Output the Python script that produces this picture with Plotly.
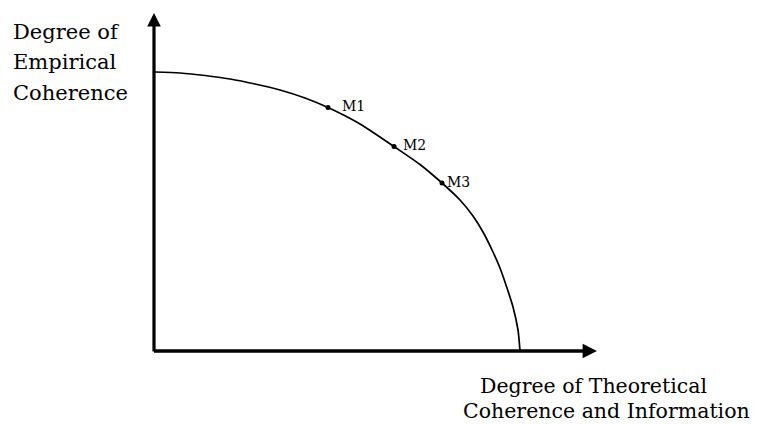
import plotly.graph_objects as go

# Frontier curve (x: theoretical, y: empirical)
curve_x = [1, 26, 51, 76, 101, 126, 151, 174, 190, 206, 223, 240, 266, 288, 306, 319,
           329, 339, 346, 353, 359, 364, 366]
curve_y = [279, 278, 275.5, 272, 267, 261, 253, 243.5, 235.7, 227, 216, 204.5, 186.5, 168,
           151, 135, 119, 99, 83, 63, 44, 21, 0]

# Marked models
point_labels = ["M1", "M2", "M3"]
point_x = [174, 240, 288]
point_y = [243.5, 204.5, 168]

# Axis extents (arrow tips)
x_axis_end = 443
y_axis_end = 338

y_title_lines = ["Degree of", "Empirical", "Coherence"]
x_title_lines = ["Degree of Theoretical", "Coherence and Information"]

FONT = "DejaVu Serif, Liberation Serif, serif"
BLACK = "black"

fig = go.Figure()

fig.add_trace(go.Scatter(
    x=curve_x, y=curve_y, mode="lines",
    line=dict(color=BLACK, width=1.7, shape="spline", smoothing=0.7),
    hoverinfo="skip", showlegend=False,
))

fig.add_trace(go.Scatter(
    x=point_x, y=point_y, mode="markers",
    marker=dict(color=BLACK, size=5),
    showlegend=False, hoverinfo="skip",
))

# Point labels (individually offset as in the original)
label_shift = [(12, 2), (7, 2), (3, 1)]
for lab, px_, py_, (dx, dy) in zip(point_labels, point_x, point_y, label_shift):
    fig.add_annotation(x=px_, y=py_, xref="x", yref="y", text=lab,
                       showarrow=False, xanchor="left", yanchor="middle",
                       xshift=dx, yshift=dy,
                       font=dict(family=FONT, size=14, color=BLACK))

# Axes as arrows
fig.add_annotation(x=0, y=y_axis_end, ax=0, ay=-2, xref="x", yref="y",
                   axref="x", ayref="y", showarrow=True, arrowhead=2,
                   arrowsize=0.85, arrowwidth=3.2, arrowcolor=BLACK, text="")
fig.add_annotation(x=x_axis_end, y=0, ax=-1.5, ay=0, xref="x", yref="y",
                   axref="x", ayref="y", showarrow=True, arrowhead=2,
                   arrowsize=0.8, arrowwidth=3.6, arrowcolor=BLACK, text="")

# Y title (three lines)
for txt, yy in zip(y_title_lines, [319, 289, 258]):
    fig.add_annotation(x=-143, y=yy, xref="x", yref="y", text=txt,
                       showarrow=False, xanchor="left", yanchor="middle",
                       font=dict(family=FONT, size=21, color=BLACK))

# X title (two lines)
for txt, xx, yy in zip(x_title_lines, [324, 307], [-35, -60]):
    fig.add_annotation(x=xx, y=yy, xref="x", yref="y", text=txt,
                       showarrow=False, xanchor="left", yanchor="middle",
                       font=dict(family=FONT, size=20.5, color=BLACK))

# The page adds an 8px body margin, so the figure is 8px smaller and the
# ranges are set so that data coordinates land where the original has them.
fig.update_layout(
    width=753, height=416,
    margin=dict(l=0, r=0, t=0, b=0),
    paper_bgcolor="white", plot_bgcolor="white",
    xaxis=dict(range=[-146, 607], visible=False, fixedrange=True),
    yaxis=dict(range=[-73, 343], visible=False, fixedrange=True),
    showlegend=False,
)

fig.write_html("out.html")
